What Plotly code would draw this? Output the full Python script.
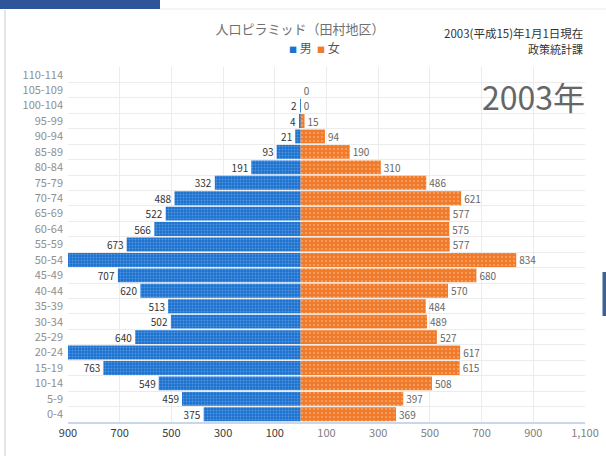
import plotly.graph_objects as go

age_groups = ["0-4", "5-9", "10-14", "15-19", "20-24", "25-29", "30-34", "35-39",
              "40-44", "45-49", "50-54", "55-59", "60-64", "65-69", "70-74", "75-79",
              "80-84", "85-89", "90-94", "95-99", "100-104", "105-109", "110-114"]
male = [375, 459, 549, 763, 920, 640, 502, 513, 620, 707, 940, 673, 566, 522, 488,
        332, 191, 93, 21, 4, 2, None, None]
female = [369, 397, 508, 615, 617, 527, 489, 484, 570, 680, 834, 577, 575, 577, 621,
          486, 310, 190, 94, 15, 0, 0, None]
x_tick_vals = [-900, -700, -500, -300, -100, 100, 300, 500, 700, 900, 1100]
x_min, x_max = -900, 1100

FONT = "Noto Sans CJK JP"
BLUE = "#1c72cf"
ORANGE = "#f07b2b"

male_x = [-v if v is not None else None for v in male]
male_text = ["" if (v is None or v > -x_min) else str(v) for v in male]
female_text = ["" if v is None else str(v) for v in female]

def tick_label(v):
    s = f"{abs(v):,}"
    if v < 0:
        return f"<span style='color:#3a3a3a'>{s}</span>"
    return s

fig = go.Figure()
fig.add_trace(go.Bar(
    y=age_groups, x=male_x, orientation="h", name="男",
    marker=dict(color=BLUE, line=dict(width=0),
                pattern=dict(shape=".", fgcolor="#7fb4ea", size=3, solidity=0.3, fgopacity=0.55)),
    text=male_text, textposition="outside", cliponaxis=False,
    textfont=dict(size=10, color="#333333", family=FONT),
    constraintext="none", hoverinfo="skip",
))
fig.add_trace(go.Bar(
    y=age_groups, x=female, orientation="h", name="女",
    marker=dict(color=ORANGE, line=dict(width=0),
                pattern=dict(shape=".", fgcolor="#ffc29a", size=4, solidity=0.2, fgopacity=0.6)),
    text=female_text, textposition="outside", cliponaxis=False,
    textfont=dict(size=10, color="#666666", family=FONT),
    constraintext="none", hoverinfo="skip",
))

fig.update_layout(
    width=606, height=456,
    margin=dict(l=68, r=21, t=67, b=34, autoexpand=False),
    paper_bgcolor="white", plot_bgcolor="white",
    font=dict(family=FONT, color="#666666"),
    barmode="relative", bargap=0.1,
    title=dict(text="人口ピラミッド（田村地区）", x=0.495, xanchor="center",
               y=0.935, yanchor="middle",
               font=dict(size=13, color="#707070", family=FONT)),
    showlegend=False,
)
fig.update_xaxes(
    range=[x_min, x_max], tickvals=x_tick_vals,
    ticktext=[tick_label(v) for v in x_tick_vals],
    showgrid=True, gridcolor="#ececec", gridwidth=1,
    zeroline=False, showline=True, linecolor="#c8d8ea", linewidth=2,
    tickfont=dict(size=11, color="#808080", family=FONT),
    ticks="", mirror=False, automargin=False,
)
fig.update_yaxes(
    type="category", categoryorder="array", categoryarray=age_groups,
    tickson="boundaries", showgrid=True, gridcolor="#ececec", gridwidth=1,
    ticks="", tickfont=dict(size=11, color="#8f8f8f", family=FONT),
    ticklabelstandoff=4, showline=False, automargin=False,
)

# legend (compact, as in the reference)
legend_text = (f"<span style='color:{BLUE};font-size:8px'>■</span> {fig.data[0].name}  "
               f"<span style='color:{ORANGE};font-size:8px'>■</span> {fig.data[1].name}")
fig.add_annotation(text=legend_text, xref="paper", yref="paper",
                   x=(314 - 68) / 517, xanchor="center", y=1.056, yanchor="middle",
                   showarrow=False, font=dict(size=12, color="#555555", family=FONT))

# annotations
fig.add_annotation(text="2003(平成15)年1月1日現在", xref="paper", yref="paper",
                   x=1.0, xanchor="right", y=1.095, yanchor="middle", showarrow=False,
                   font=dict(size=11.5, color="#333333", family=FONT))
fig.add_annotation(text="政策統計課", xref="paper", yref="paper",
                   x=1.0, xanchor="right", y=1.052, yanchor="middle", showarrow=False,
                   font=dict(size=11, color="#333333", family=FONT))
fig.add_annotation(text="2003年", xref="paper", yref="paper",
                   x=1.004, xanchor="right", y=0.918, yanchor="middle", showarrow=False,
                   font=dict(size=32, color="#666666", family=FONT))

# page decorations
top_y = 1 + (67 - 9) / 355
fig.add_shape(type="rect", xref="paper", yref="paper", x0=-68/517, x1=(160-68)/517,
              y0=top_y, y1=1 + 67/355, line_width=0, fillcolor="#2e5597")
fig.add_shape(type="line", xref="paper", yref="paper", x0=(160-68)/517, x1=1 + 21/517,
              y0=top_y, y1=top_y, line=dict(color="#ebebeb", width=1))
fig.add_shape(type="line", xref="paper", yref="paper", x0=(5-68)/517, x1=(5-68)/517,
              y0=-34/355, y1=1 + (67-10)/355, line=dict(color="#dddddd", width=1.5))
fig.add_shape(type="rect", xref="paper", yref="paper", x0=(602.5-68)/517, x1=1 + 21/517,
              y0=(422-316)/355, y1=(422-272)/355, line_width=0, fillcolor="#3d6296")

fig.write_html("out.html", config={"displayModeBar": False},
               post_script="document.body.style.margin='0';document.body.style.overflow='hidden';")
